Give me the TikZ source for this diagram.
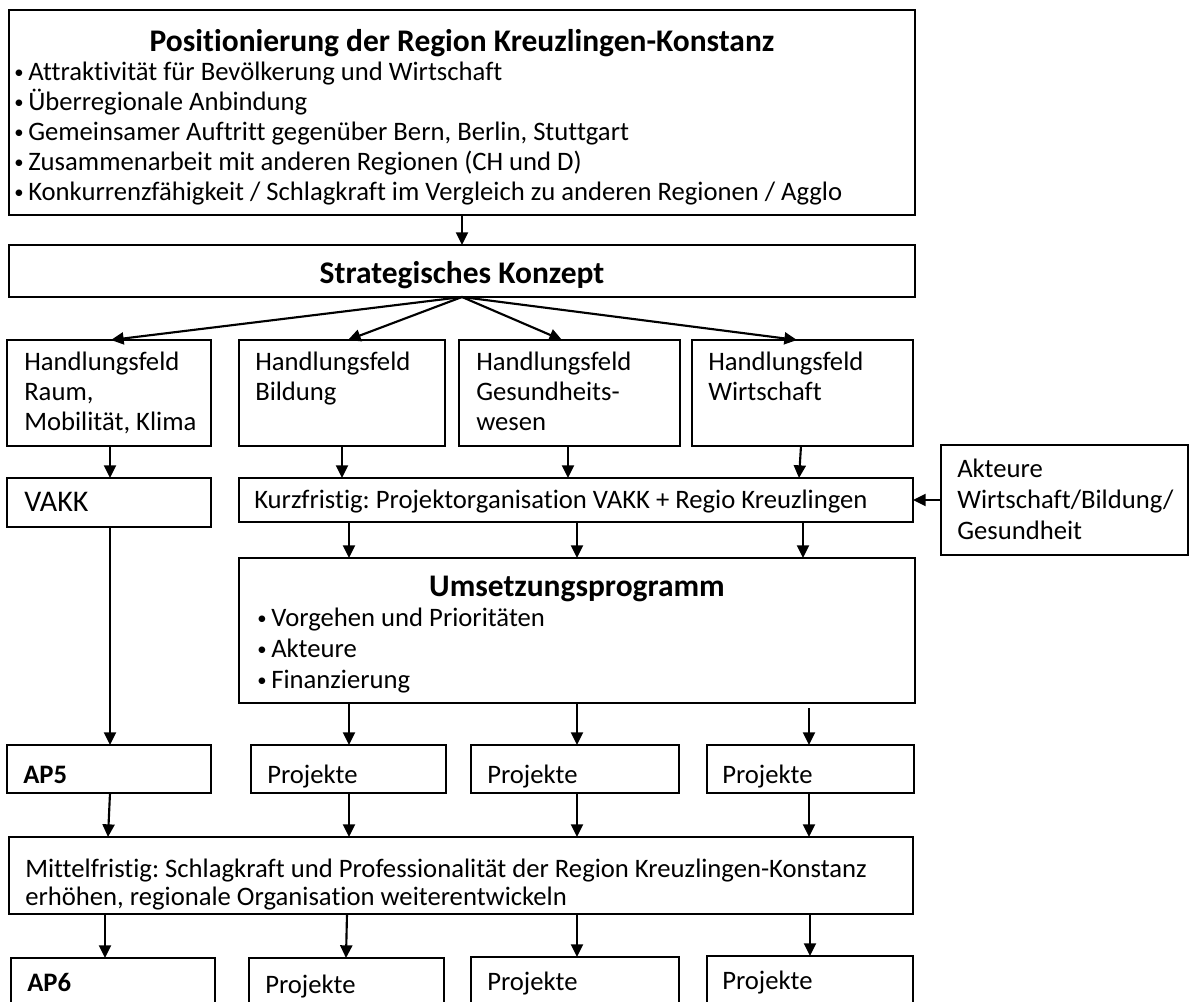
\documentclass[tikz,border=0pt]{standalone}
\usepackage{fontspec}
\setmainfont{Carlito}[Ligatures=NoCommon]
\usetikzlibrary{arrows.meta}
\frenchspacing
\newcommand\mybox[5]{\node[box, minimum width={(#4-#2)*0.75pt}, minimum height={(#5-#3)*0.75pt}, anchor=north west] (#1) at (#2,#3) {};}
\tikzset{
 box/.style={draw, line width=1.6pt, rectangle, inner sep=0pt, outer sep=0pt},
 txt/.style={inner sep=0pt, anchor=base west, font=\fontsize{20}{24}\selectfont},
 bul/.style={inner sep=0pt, anchor=base west, font=\fontsize{14}{16}\selectfont},
 btxt/.style={txt, font=\fontsize{20}{24}\selectfont\bfseries},
 ttl/.style={inner sep=0pt, anchor=base, font=\fontsize{23.6}{28}\selectfont\bfseries},
 arr/.style={line width=1.6pt, -{Triangle[length=9.5pt,width=9pt]}},
}
\begin{document}
\begin{tikzpicture}[x=0.75pt, y=-0.75pt]
\useasboundingbox (0,0) rectangle (1190,1001);
% boxes
\mybox{top}{9}{10}{915}{215}
\mybox{strat}{9}{245}{915}{297}
\mybox{hA}{7}{340}{211}{446}
\mybox{hB}{239}{340}{445}{446}
\mybox{hC}{459}{340}{680}{446}
\mybox{hD}{692}{340}{913}{446}
\mybox{vakk}{7}{478}{211}{527}
\mybox{kurz}{239}{478}{913}{522}
\mybox{akt}{941}{445}{1188}{555}
\mybox{ums}{239}{558}{915}{703}
\mybox{apf}{7}{745}{211}{793}
\mybox{pA}{251}{745}{446}{793}
\mybox{pB}{471}{745}{679}{793}
\mybox{pC}{707}{745}{914}{793}
\mybox{mit}{9}{837}{913}{914}
\mybox{aps}{11}{958}{215}{1030}
\mybox{qA}{249}{958}{444}{1030}
\mybox{qB}{471}{957}{679}{1030}
\mybox{qC}{707}{956}{913}{1030}
% texts
\node[ttl] (tT) at (462,51) {Positionierung der Region Kreuzlingen-Konstanz};
\node[bul] (bt1) at (14,78) {•};
\node[bul] (bt2) at (14,108) {•};
\node[bul] (bt3) at (14,138) {•};
\node[bul] (bt4) at (14,168) {•};
\node[bul] (bt5) at (14,198) {•};
\node[txt] (tb1) at (28,80) {Attraktivität für Bevölkerung und Wirtschaft};
\node[txt] (tb2) at (28,110) {Überregionale Anbindung};
\node[txt] (tb3) at (28,140) {Gemeinsamer Auftritt gegenüber Bern, Berlin, Stuttgart};
\node[txt] (tb4) at (28,170) {Zusammenarbeit mit anderen Regionen (CH und D)};
\node[txt] (tb5) at (28,200) {Konkurrenzfähigkeit / Schlagkraft im Vergleich zu anderen Regionen / Agglo};
\node[ttl] (tS) at (462,283) {Strategisches Konzept};
\node[txt] (tA1) at (24,370) {Handlungsfeld};
\node[txt] (tA2) at (24,400) {Raum,};
\node[txt] (tA3) at (24,430) {Mobilität, Klima};
\node[txt] (tB1) at (255,370) {Handlungsfeld};
\node[txt] (tB2) at (255,400) {Bildung};
\node[txt] (tC1) at (476,370) {Handlungsfeld};
\node[txt] (tC2) at (476,400) {Gesundheits-};
\node[txt] (tC3) at (476,430) {wesen};
\node[txt] (tD1) at (708,370) {Handlungsfeld};
\node[txt] (tD2) at (708,400) {Wirtschaft};
\node[txt, font=\fontsize{22.5}{26}\selectfont] (tV) at (24,511) {VAKK};
\node[txt] (tK) at (254,508) {Kurzfristig: Projektorganisation VAKK + Regio Kreuzlingen};
\node[txt] (tK1) at (957,477) {Akteure};
\node[txt] (tK2) at (957,508) {Wirtschaft/Bildung/};
\node[txt] (tK3) at (957,539) {Gesundheit};
\node[ttl] (tU) at (577,596) {Umsetzungsprogramm};
\node[bul] (ub1) at (257,624) {•};
\node[bul] (ub2) at (257,655) {•};
\node[bul] (ub3) at (257,686) {•};
\node[txt] (ut1) at (271,626) {Vorgehen und Prioritäten};
\node[txt] (ut2) at (271,657) {Akteure};
\node[txt] (ut3) at (271,688) {Finanzierung};
\node[btxt] (tP5) at (23,783) {AP5};
\node[txt] (tpA) at (267,783) {Projekte};
\node[txt] (tpB) at (487,783) {Projekte};
\node[txt] (tpC) at (722,783) {Projekte};
\node[txt] (tM1) at (25,877) {Mittelfristig: Schlagkraft und Professionalität der Region Kreuzlingen-Konstanz};
\node[txt] (tM2) at (25,905) {erhöhen, regionale Organisation weiterentwickeln};
\node[btxt] (tP6) at (27,991) {AP6};
\node[txt] (tqA) at (265,993) {Projekte};
\node[txt] (tqB) at (487,990) {Projekte};
\node[txt] (tqC) at (722,989) {Projekte};
% arrows
\draw[arr] (462,0 |- top.south) -- (462,0 |- strat.north);
\draw[arr] (strat.south) -- (111,0 |- hA.north);
\draw[arr] (strat.south) -- (348,0 |- hB.north);
\draw[arr] (strat.south) -- (562,0 |- hC.north);
\draw[arr] (strat.south) -- (797,0 |- hD.north);
\draw[arr] (110,0 |- hA.south) -- (110,0 |- vakk.north);
\draw[arr] (342,0 |- hB.south) -- (342,0 |- kurz.north);
\draw[arr] (568,0 |- hC.south) -- (568,0 |- kurz.north);
\draw[arr] (801,0 |- hD.south) -- (799,0 |- kurz.north);
\draw[arr] (akt.west) -- (kurz.east);
\draw[arr] (349,0 |- kurz.south) -- (349,0 |- ums.north);
\draw[arr] (577,0 |- kurz.south) -- (577,0 |- ums.north);
\draw[arr] (803,0 |- kurz.south) -- (803,0 |- ums.north);
\draw[arr] (110,0 |- vakk.south) -- (110,0 |- apf.north);
\draw[arr] (349,0 |- ums.south) -- (349,0 |- pA.north);
\draw[arr] (577,0 |- ums.south) -- (577,0 |- pB.north);
\coordinate (uC) at (809,708);
\draw[arr] (uC) -- (809,0 |- pC.north);
\draw[arr] (110,0 |- apf.south) -- (108,0 |- mit.north);
\draw[arr] (349,0 |- pA.south) -- (349,0 |- mit.north);
\draw[arr] (577,0 |- pB.south) -- (577,0 |- mit.north);
\draw[arr] (809,0 |- pC.south) -- (809,0 |- mit.north);
\draw[arr] (105,0 |- mit.south) -- (105,0 |- aps.north);
\draw[arr] (347,0 |- mit.south) -- (346,0 |- qA.north);
\draw[arr] (577,0 |- mit.south) -- (577,0 |- qB.north);
\draw[arr] (810,0 |- mit.south) -- (810,0 |- qC.north);
\end{tikzpicture}
\end{document}
